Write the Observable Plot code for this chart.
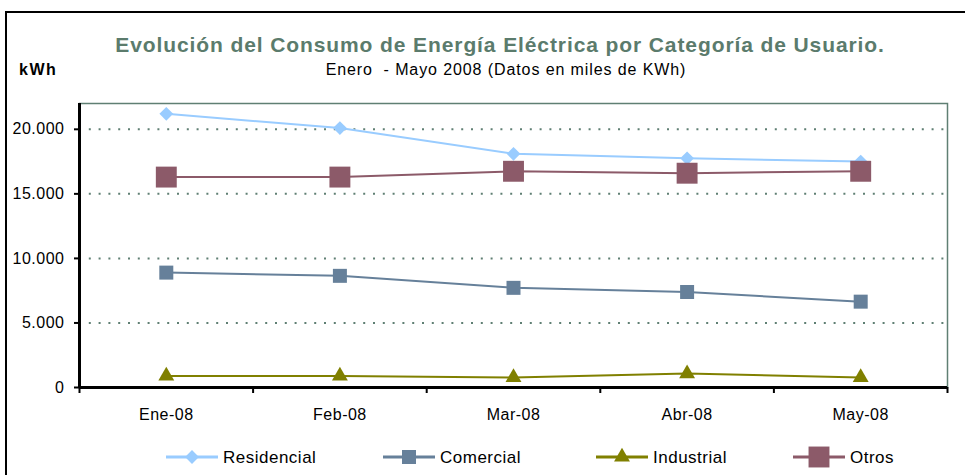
<!DOCTYPE html>
<html><head><meta charset="utf-8">
<script src="https://cdn.jsdelivr.net/npm/d3@7"></script>
<script src="https://cdn.jsdelivr.net/npm/@observablehq/plot@0.6"></script>
<style>
body{margin:0;background:#fff;font-family:"Liberation Sans",Arial,sans-serif;}
#wrap{position:relative;width:965px;height:475px;overflow:hidden;background:#fff;}
#wrap svg{position:absolute;left:0;top:0;}
.frame{position:absolute;left:5px;top:11px;width:1000px;height:500px;border:2px solid #000;pointer-events:none;}
.title{position:absolute;left:0;width:1000px;top:34px;text-align:center;font-size:21px;line-height:21px;font-weight:bold;color:#5b7b6c;letter-spacing:0.9px;white-space:nowrap;}
.sub{position:absolute;left:6px;width:1000px;top:62px;text-align:center;font-size:16px;line-height:16px;color:#000;letter-spacing:0.9px;white-space:nowrap;}
.unit{position:absolute;left:19px;top:62px;font-size:16px;line-height:16px;font-weight:bold;letter-spacing:1.5px;color:#000;}
</style></head>
<body>
<div id="wrap">
  <div class="title">Evolución del Consumo de Energía Eléctrica por Categoría de Usuario.</div>
  <div class="unit">kWh</div>
  <div class="sub">Enero &nbsp;- Mayo 2008 (Datos en miles de KWh)</div>
</div>
<script>
const months = ["Ene-08","Feb-08","Mar-08","Abr-08","May-08"];
const residencial = [21200, 20100, 18100, 17750, 17500];
const comercial   = [8900, 8650, 7720, 7400, 6650];
const industrial  = [900, 900, 780, 1080, 780];
const otros       = [16300, 16300, 16750, 16600, 16750];
const yTicks = [0, 5000, 10000, 15000, 20000];
const seriesNames = ["Residencial","Comercial","Industrial","Otros"];
const seriesValues = [residencial, comercial, industrial, otros];
const colors = ["#99ccff","#66809a","#808000","#8c5a69"];
const symbols = ["diamond2","square","triangle","square"];
const radii = [6.2, 7.9, 5.9, 11.8];

const data = seriesNames.flatMap((s, k) => seriesValues[k].map((v, i) => ({series: s, i, v})));
const fmt = d3.formatLocale({decimal: ",", thousands: ".", grouping: [3], currency: ["", "€"]}).format(",");
const bounds = d3.range(-0.5, months.length, 1);
const grid = "#5f7f73";

const marks = [
  Plot.ruleY(yTicks.filter(d => d > 0), {stroke: grid, strokeWidth: 2, strokeDasharray: "2,7.8"}),
  Plot.frame({stroke: grid, strokeWidth: 1.5}),
  Plot.ruleX([-0.5], {stroke: "#000", strokeWidth: 3}),
  Plot.ruleY([0], {stroke: "#000", strokeWidth: 3}),
  Plot.axisY({ticks: yTicks, tickSize: 5, tickPadding: 10, tickFormat: fmt, fontSize: 16, stroke: "#000", strokeWidth: 2, label: null}),
  Plot.axisX({ticks: bounds, tickSize: 6, tickFormat: () => "", stroke: "#000", strokeWidth: 2, label: null}),
  Plot.axisX({ticks: d3.range(months.length), tickSize: 0, tickPadding: 21, tickFormat: i => months[i], fontSize: 16, label: null})
];
seriesNames.forEach((s, k) => {
  const d = data.filter(r => r.series === s);
  marks.push(Plot.line(d, {x: "i", y: "v", stroke: colors[k], strokeWidth: 2}));
});
seriesNames.forEach((s, k) => {
  const d = data.filter(r => r.series === s);
  marks.push(Plot.dot(d, {x: "i", y: "v", fill: colors[k], symbol: symbols[k], r: radii[k], stroke: null}));
});

const chart = Plot.plot({
  width: 965, height: 475,
  marginTop: 103, marginBottom: 88, marginLeft: 79, marginRight: 18,
  style: {background: "transparent", fontFamily: "'Liberation Sans', Arial, sans-serif", color: "#000"},
  x: {type: "linear", domain: [-0.5, months.length - 0.5], axis: null},
  y: {domain: [0, 22000], axis: null},
  marks
});
chart.querySelectorAll("text").forEach(t => t.style.letterSpacing = "0.5px");
document.getElementById("wrap").appendChild(chart);

// legend
const leg = d3.create("svg").attr("width", 965).attr("height", 475)
  .style("font-family", "'Liberation Sans', Arial, sans-serif");
const legX = [166, 383, 596, 793];
const legY = 457;
const symMap = {diamond2: d3.symbolDiamond2, square: d3.symbolSquare, triangle: d3.symbolTriangle};
seriesNames.forEach((s, k) => {
  const g = leg.append("g").attr("transform", `translate(${legX[k]},${legY})`);
  g.append("line").attr("x1", 0).attr("x2", 52).attr("stroke", colors[k]).attr("stroke-width", 3);
  g.append("path").attr("transform", "translate(26,0)")
    .attr("d", d3.symbol(symMap[symbols[k]], Math.PI * radii[k] * radii[k])())
    .attr("fill", colors[k]);
  g.append("text").attr("x", 57).attr("dy", "0.35em").attr("font-size", 17)
    .style("letter-spacing", "0.5px").text(s);
});
document.getElementById("wrap").appendChild(leg.node());
const fr = document.createElement("div"); fr.className = "frame";
document.getElementById("wrap").appendChild(fr);
</script>
</body></html>
